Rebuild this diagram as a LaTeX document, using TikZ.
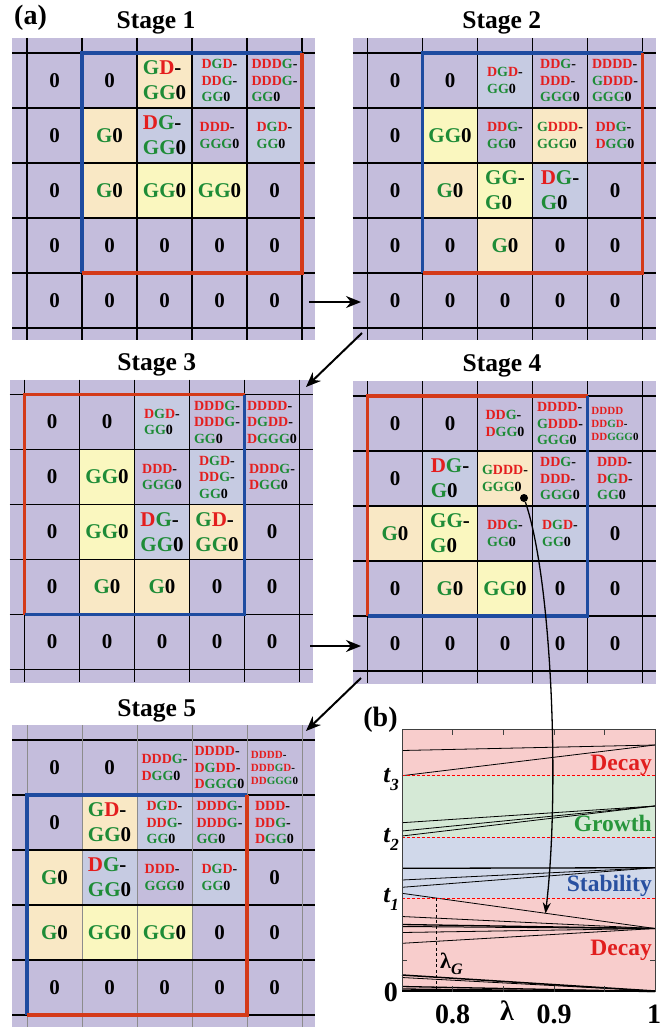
\documentclass[tikz,border=0pt]{standalone}
\usepackage{fontspec}
\setmainfont{Liberation Serif}
\usetikzlibrary{arrows.meta,calc}

% lattice colours
\definecolor{cpurple}{RGB}{196,189,220}
\definecolor{cpeach}{RGB}{249,232,197}
\definecolor{cyellow}{RGB}{250,247,191}
\definecolor{cblue}{RGB}{198,203,226}
\definecolor{tgreen}{RGB}{30,140,55}
\definecolor{tred}{RGB}{228,30,30}
\definecolor{fblue}{RGB}{30,75,160}
\definecolor{fred}{RGB}{212,58,25}
% phase-diagram colours
\definecolor{bred}{RGB}{248,205,204}
\definecolor{bgreen}{RGB}{213,233,214}
\definecolor{bblue}{RGB}{208,216,234}
\definecolor{lgreen}{RGB}{40,150,60}
\definecolor{lblue}{RGB}{40,80,160}
\definecolor{lred}{RGB}{225,30,30}

\newcommand\cR[1]{\textcolor{tred}{#1}}
\newcommand\cG[1]{\textcolor{tgreen}{#1}}

% one lattice cell: fill and label (row, column)
\newcommand\cellfill[3]{\fill[#3] ({15+55*(#2-1)},{15+55*(#1-1)}) rectangle +(55,55);}
\newcommand\celltext[5]{\node[#4] (s#1-#2#3) at ({55*#3-12.5},{55*#2-12.5}) {#5};}
\newcommand\gridlines[1]{%
  \foreach \k in {0,...,5} {
    \draw[gridline,#1] ({15+55*\k},0) -- ({15+55*\k},302);
    \draw[gridline] (0,{15+55*\k}) -- (303,{15+55*\k});
  }}

\tikzset{
  big/.style={font=\bfseries\fontsize{21}{25}\selectfont, align=left, inner sep=0pt},
  sml/.style={font=\bfseries\fontsize{14}{16.5}\selectfont, align=left, inner sep=0pt},
  tny/.style={font=\bfseries\fontsize{11}{13}\selectfont, align=left, inner sep=0pt},
  gridline/.style={line width=1.2pt, black},
  fb/.style={line width=3.2pt, fblue},
  fr/.style={line width=3.2pt, fred},
  title/.style={font=\bfseries\fontsize{25.5}{28}\selectfont, inner sep=0pt, anchor=base},
  bigarrow/.style={line width=2pt, -{Stealth[length=15pt,width=12pt]}},
  thinarrow/.style={line width=1.3pt, -{Stealth[length=11pt,width=8pt]}},
  datline/.style={line width=0.8pt, black},
  axlbl/.style={font=\bfseries\fontsize{28}{28}\selectfont, inner sep=0pt},
  bandlbl/.style={font=\bfseries\fontsize{23.5}{24}\selectfont, inner sep=0pt, anchor=base east},
  tlbl/.style={font=\bfseries\itshape\fontsize{25}{25}\selectfont, inner sep=0pt, anchor=base east},
}

\begin{document}
\begin{tikzpicture}[x=1pt,y=-1pt]
\useasboundingbox (0,0) rectangle (663,1027);

\node[font=\bfseries\fontsize{28}{28}\selectfont, inner sep=0pt] (pa) at (30.5,17.5) {(a)};

% ---------------- Stage 1 ----------------
\node[title] (st1) at (156,28.3) {Stage 1};
\begin{scope}[shift={(12,38)}]
  \fill[cpurple] (0,0) rectangle (303,302);
  \cellfill{1}{3}{cpeach}\cellfill{1}{4}{cblue}
  \cellfill{2}{2}{cpeach}\cellfill{2}{3}{cblue}\cellfill{2}{5}{cblue}
  \cellfill{3}{2}{cpeach}\cellfill{3}{3}{cyellow}\cellfill{3}{4}{cyellow}
  \gridlines{}
  \foreach \r/\c in {1/1,1/2,2/1,3/1,3/5,4/1,4/2,4/3,4/4,4/5,5/1,5/2,5/3,5/4,5/5}
    {\celltext{1}{\r}{\c}{big}{0}}
  \celltext{1}{1}{3}{big}{\cG{G}\cR{D}-\\\cG{GG}0}
  \celltext{1}{1}{4}{sml}{\cR{D}\cG{G}\cR{D}-\\\cR{DD}\cG{G}-\\\cG{GG}0}
  \celltext{1}{1}{5}{sml}{\cR{DDD}\cG{G}-\\\cR{DDD}\cG{G}-\\\cG{GG}0}
  \celltext{1}{2}{2}{big}{\cG{G}0}
  \celltext{1}{2}{3}{big}{\cR{D}\cG{G}-\\\cG{GG}0}
  \celltext{1}{2}{4}{sml}{\cR{DDD}-\\\cG{GGG}0}
  \celltext{1}{2}{5}{sml}{\cR{D}\cG{G}\cR{D}-\\\cG{GG}0}
  \celltext{1}{3}{2}{big}{\cG{G}0}
  \celltext{1}{3}{3}{big}{\cG{GG}0}
  \celltext{1}{3}{4}{big}{\cG{GG}0}
  \draw[fb] (70,235) -- (70,15) -- (290,15);
  \draw[fr] (290,15) -- (290,235) -- (70,235);
\end{scope}

% ---------------- Stage 2 ----------------
\node[title] (st2) at (501.7,29) {Stage 2};
\begin{scope}[shift={(352.5,38)}]
  \fill[cpurple] (0,0) rectangle (303,302);
  \cellfill{1}{3}{cblue}
  \cellfill{2}{2}{cyellow}\cellfill{2}{4}{cpeach}
  \cellfill{3}{2}{cpeach}\cellfill{3}{3}{cyellow}\cellfill{3}{4}{cblue}
  \cellfill{4}{3}{cpeach}
  \gridlines{}
  \foreach \r/\c in {1/1,1/2,2/1,3/1,3/5,4/1,4/2,4/4,4/5,5/1,5/2,5/3,5/4,5/5}
    {\celltext{2}{\r}{\c}{big}{0}}
  \celltext{2}{1}{3}{sml}{\cR{D}\cG{G}\cR{D}-\\\cG{GG}0}
  \celltext{2}{1}{4}{sml}{\cR{DD}\cG{G}-\\\cR{DDD}-\\\cG{GGG}0}
  \celltext{2}{1}{5}{sml}{\cR{DDDD}-\\\cG{G}\cR{DDD}-\\\cG{GGG}0}
  \celltext{2}{2}{2}{big}{\cG{GG}0}
  \celltext{2}{2}{3}{sml}{\cR{DD}\cG{G}-\\\cG{GG}0}
  \celltext{2}{2}{4}{sml}{\cG{G}\cR{DDD}-\\\cG{GGG}0}
  \celltext{2}{2}{5}{sml}{\cR{DD}\cG{G}-\\\cR{D}\cG{GG}0}
  \celltext{2}{3}{2}{big}{\cG{G}0}
  \celltext{2}{3}{3}{big}{\cG{GG}-\\\cG{G}0}
  \celltext{2}{3}{4}{big}{\cR{D}\cG{G}-\\\cG{G}0}
  \celltext{2}{4}{3}{big}{\cG{G}0}
  \draw[fb] (70,235) -- (70,15) -- (290,15);
  \draw[fr] (290,15) -- (290,235) -- (70,235);
\end{scope}

% ---------------- Stage 3 ----------------
\node[title] (st3) at (156.7,370) {Stage 3};
\begin{scope}[shift={(9.5,379.5)}]
  \fill[cpurple] (0,0) rectangle (303,303);
  \cellfill{1}{3}{cblue}
  \cellfill{2}{2}{cyellow}\cellfill{2}{4}{cblue}
  \cellfill{3}{2}{cyellow}\cellfill{3}{3}{cblue}\cellfill{3}{4}{cpeach}
  \cellfill{4}{2}{cpeach}\cellfill{4}{3}{cpeach}
  \gridlines{}
  \foreach \r/\c in {1/1,1/2,2/1,3/1,3/5,4/1,4/4,4/5,5/1,5/2,5/3,5/4,5/5}
    {\celltext{3}{\r}{\c}{big}{0}}
  \celltext{3}{1}{3}{sml}{\cR{D}\cG{G}\cR{D}-\\\cG{GG}0}
  \celltext{3}{1}{4}{sml}{\cR{DDD}\cG{G}-\\\cR{DDD}\cG{G}-\\\cG{GG}0}
  \celltext{3}{1}{5}{sml}{\cR{DDDD}-\\\cR{D}\cG{G}\cR{DD}-\\\cR{D}\cG{GGG}0}
  \celltext{3}{2}{2}{big}{\cG{GG}0}
  \celltext{3}{2}{3}{sml}{\cR{DDD}-\\\cG{GGG}0}
  \celltext{3}{2}{4}{sml}{\cR{D}\cG{G}\cR{D}-\\\cR{DD}\cG{G}-\\\cG{GG}0}
  \celltext{3}{2}{5}{sml}{\cR{DDD}\cG{G}-\\\cR{D}\cG{GG}0}
  \celltext{3}{3}{2}{big}{\cG{GG}0}
  \celltext{3}{3}{3}{big}{\cR{D}\cG{G}-\\\cG{GG}0}
  \celltext{3}{3}{4}{big}{\cG{G}\cR{D}-\\\cG{GG}0}
  \celltext{3}{4}{2}{big}{\cG{G}0}
  \celltext{3}{4}{3}{big}{\cG{G}0}
  \draw[fr] (15,235) -- (15,15) -- (235,15);
  \draw[fb] (235,15) -- (235,235) -- (15,235);
\end{scope}

% ---------------- Stage 4 ----------------
\node[title] (st4) at (502,371.5) {Stage 4};
\begin{scope}[shift={(352.5,381)}]
  \fill[cpurple] (0,0) rectangle (303,303);
  \cellfill{2}{2}{cblue}\cellfill{2}{3}{cpeach}
  \cellfill{3}{1}{cpeach}\cellfill{3}{2}{cyellow}\cellfill{3}{4}{cblue}
  \cellfill{4}{2}{cpeach}\cellfill{4}{3}{cyellow}
  \gridlines{}
  \foreach \r/\c in {1/1,1/2,2/1,3/5,4/1,4/4,4/5,5/1,5/2,5/3,5/4,5/5}
    {\celltext{4}{\r}{\c}{big}{0}}
  \celltext{4}{1}{3}{sml}{\cR{DD}\cG{G}-\\\cR{D}\cG{GG}0}
  \celltext{4}{1}{4}{sml}{\cR{DDDD}-\\\cG{G}\cR{DDD}-\\\cG{GGG}0}
  \celltext{4}{1}{5}{tny}{\cR{DDDD}\\\cR{DD}\cG{G}\cR{D}-\\\cR{DD}\cG{GGG}0}
  \celltext{4}{2}{2}{big}{\cR{D}\cG{G}-\\\cG{G}0}
  \celltext{4}{2}{3}{sml}{\cG{G}\cR{DDD}-\\\cG{GGG}0}
  \celltext{4}{2}{4}{sml}{\cR{DD}\cG{G}-\\\cR{DDD}-\\\cG{GGG}0}
  \celltext{4}{2}{5}{sml}{\cR{DDD}-\\\cR{D}\cG{G}\cR{D}-\\\cG{GG}0}
  \celltext{4}{3}{1}{big}{\cG{G}0}
  \celltext{4}{3}{2}{big}{\cG{GG}-\\\cG{G}0}
  \celltext{4}{3}{3}{sml}{\cR{DD}\cG{G}-\\\cG{GG}0}
  \celltext{4}{3}{4}{sml}{\cR{D}\cG{G}\cR{D}-\\\cG{GG}0}
  \celltext{4}{4}{2}{big}{\cG{G}0}
  \celltext{4}{4}{3}{big}{\cG{GG}0}
  \draw[fr] (15,235) -- (15,15) -- (235,15);
  \draw[fb] (235,15) -- (235,235) -- (15,235);
\end{scope}
\node[circle, fill=black, inner sep=0pt, minimum size=8pt] (src) at (524,498) {};

% ---------------- Stage 5 ----------------
\node[title] (st5) at (156.7,716) {Stage 5};
\begin{scope}[shift={(12,725)}]
  \fill[cpurple] (0,0) rectangle (303,302);
  \cellfill{2}{2}{cpeach}\cellfill{2}{3}{cblue}
  \cellfill{3}{1}{cpeach}\cellfill{3}{2}{cblue}\cellfill{3}{4}{cblue}
  \cellfill{4}{1}{cpeach}\cellfill{4}{2}{cyellow}\cellfill{4}{3}{cyellow}
  \gridlines{black!45, line width=1pt}
  \foreach \r/\c in {1/1,1/2,2/1,3/5,4/4,4/5,5/1,5/2,5/3,5/4,5/5}
    {\celltext{5}{\r}{\c}{big}{0}}
  \celltext{5}{1}{3}{sml}{\cR{DDD}\cG{G}-\\\cR{D}\cG{GG}0}
  \celltext{5}{1}{4}{sml}{\cR{DDDD}-\\\cR{D}\cG{G}\cR{DD}-\\\cR{D}\cG{GGG}0}
  \celltext{5}{1}{5}{tny}{\cR{DDDD}-\\\cR{DDD}\cG{G}\cR{D}-\\\cR{DD}\cG{GGG}0}
  \celltext{5}{2}{2}{big}{\cG{G}\cR{D}-\\\cG{GG}0}
  \celltext{5}{2}{3}{sml}{\cR{D}\cG{G}\cR{D}-\\\cR{DD}\cG{G}-\\\cG{GG}0}
  \celltext{5}{2}{4}{sml}{\cR{DDD}\cG{G}-\\\cR{DDD}\cG{G}-\\\cG{GG}0}
  \celltext{5}{2}{5}{sml}{\cR{DDD}-\\\cR{DD}\cG{G}-\\\cR{D}\cG{GG}0}
  \celltext{5}{3}{1}{big}{\cG{G}0}
  \celltext{5}{3}{2}{big}{\cR{D}\cG{G}-\\\cG{GG}0}
  \celltext{5}{3}{3}{sml}{\cR{DDD}-\\\cG{GGG}0}
  \celltext{5}{3}{4}{sml}{\cR{D}\cG{G}\cR{D}-\\\cG{GG}0}
  \celltext{5}{4}{1}{big}{\cG{G}0}
  \celltext{5}{4}{2}{big}{\cG{GG}0}
  \celltext{5}{4}{3}{big}{\cG{GG}0}
  \draw[fb] (15,290) -- (15,70) -- (235,70);
  \draw[fr] (235,70) -- (235,290) -- (15,290);
\end{scope}

% ---------------- stage-to-stage arrows ----------------
\coordinate (a1) at (309,302);  \coordinate (a2) at (361,302);
\coordinate (b1) at (362,333);  \coordinate (b2) at (306,387);
\coordinate (c1) at (310,646);  \coordinate (c2) at (361,646);
\coordinate (d1) at (361,678);  \coordinate (d2) at (306,731);
\draw[bigarrow] (a1) -- (a2);
\draw[bigarrow] (b1) -- (b2);
\draw[bigarrow] (c1) -- (c2);
\draw[bigarrow] (d1) -- (d2);

% ---------------- panel (b): phase diagram ----------------
\node[font=\bfseries\fontsize{28}{28}\selectfont, inner sep=0pt] (pb) at (380.5,720) {(b)};
\fill[bred]   (402,729.5) rectangle (655,775.7);
\fill[bgreen] (402,775.7) rectangle (655,837.3);
\fill[bblue]  (402,837.3) rectangle (655,898.3);
\fill[bred]   (402,898.3) rectangle (655,991.7);

% eigenvalue branches
\foreach \a/\b/\w in {750.5/745/0.8, 775.7/745/0.8,
                      822.7/806/0.8, 831/806/0.8, 836/806/0.8,
                      868.3/867.7/1.3, 880/867.7/0.8, 887.3/867.7/0.8,
                      893.3/928.5/0.8, 916.5/928.5/0.8, 924.5/928.5/1.3,
                      926.5/928.5/1.0, 932.5/928.5/0.8, 943.3/928.5/0.8,
                      975/991/1.5, 977.5/991/0.8, 986.5/991.5/1.3, 989/991.5/1.3}
  {\draw[datline, line width=\w pt] (402,\a) -- (655,\b);}

\foreach \y in {775.7,837.3,898.3}
  {\draw[red, line width=0.8pt, dash pattern=on 3pt off 2pt] (402,\y) -- (655,\y);}
\draw[black, line width=0.9pt, dash pattern=on 3pt off 2.5pt] (436,898.3) -- (436,991.7);

\draw[black!75, line width=0.9pt] (402,729.5) rectangle (655,991.7);
\draw[black, line width=1.8pt] (402,991.2) -- (655,991.2);
\foreach \x in {452.7,503.3,554,604.7}
  {\draw[black!75, line width=0.8pt] (\x,729.5) -- (\x,735);
   \draw[black!75, line width=0.8pt] (\x,991.7) -- (\x,986);}
\draw[black!75, line width=0.8pt] (402,960) -- (407,960);
\draw[black!75, line width=0.8pt] (655,960) -- (650,960);

\node[bandlbl, text=lred]   (dec1) at (652,770) {Decay};
\node[bandlbl, text=lgreen] (grw)  at (652,831.7) {Growth};
\node[bandlbl, text=lblue]  (stb)  at (652,891.7) {Stability};
\node[bandlbl, text=lred]   (dec2) at (652,955) {Decay};

\node[tlbl] (t3) at (399,782) {t\raisebox{-8pt}{\fontsize{17}{17}\selectfont 3}};
\node[tlbl] (t2) at (399,842) {t\raisebox{-8pt}{\fontsize{17}{17}\selectfont 2}};
\node[tlbl] (t1) at (399,902) {t\raisebox{-8pt}{\fontsize{17}{17}\selectfont 1}};
\node[axlbl, anchor=base east] (y0) at (398,1001.5) {0};
\node[axlbl, anchor=base] (x08) at (452.7,1023) {0.8};
\node[axlbl, anchor=base] (x09) at (554,1023) {0.9};
\node[axlbl, anchor=base] (x10) at (654,1023) {1};
\node[axlbl, anchor=base] (lam) at (507,1020) {λ};
\node[font=\bfseries\fontsize{22}{22}\selectfont, inner sep=0pt, anchor=base west] (lamG)
  at (440,968) {λ\raisebox{-6pt}{\itshape\fontsize{16}{16}\selectfont G}};

% link from the highlighted cell to its branch
\coordinate (tgt) at (545.5,913.5);
\draw[thinarrow] (src) .. controls (552,580) and (560,790) .. (tgt);

\end{tikzpicture}
\end{document}
